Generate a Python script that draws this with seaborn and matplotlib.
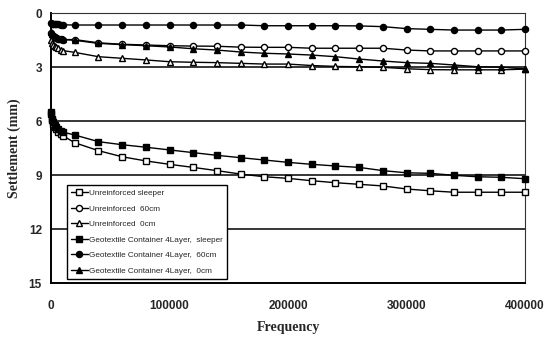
import matplotlib
matplotlib.use("Agg")
import matplotlib.pyplot as plt
import seaborn as sns
import pandas as pd

# Load cycles (x) - dense readings at the start, then every 20000
freq = [0, 1000, 2000, 3000, 4000, 6000, 8000, 10000,
        20000, 40000, 60000, 80000, 100000, 120000, 140000, 160000, 180000, 200000,
        220000, 240000, 260000, 280000, 300000, 320000, 340000, 360000, 380000, 400000]

# Settlement (mm)
unre_sleeper = [5.6, 5.95, 6.15, 6.3, 6.42, 6.58, 6.7, 6.8,
                7.19, 7.63, 7.97, 8.2, 8.39, 8.56, 8.74, 8.93, 9.08, 9.17,
                9.3, 9.41, 9.5, 9.59, 9.76, 9.86, 9.94, 9.94, 9.94, 9.94]
unre_60 = [1.1, 1.2, 1.27, 1.32, 1.36, 1.4, 1.44, 1.46,
           1.46, 1.64, 1.72, 1.76, 1.8, 1.82, 1.83, 1.88, 1.89, 1.89,
           1.94, 1.94, 1.94, 1.94, 2.04, 2.09, 2.09, 2.09, 2.09, 2.09]
unre_0 = [1.5, 1.65, 1.75, 1.82, 1.88, 1.95, 2.02, 2.07,
          2.17, 2.41, 2.5, 2.59, 2.69, 2.72, 2.74, 2.78, 2.82, 2.82,
          2.9, 2.95, 2.97, 3.0, 3.08, 3.13, 3.14, 3.14, 3.14, 3.1]
geo_sleeper = [5.5, 5.85, 6.05, 6.2, 6.3, 6.45, 6.55, 6.6,
               6.76, 7.13, 7.3, 7.44, 7.59, 7.74, 7.89, 8.02, 8.15, 8.28,
               8.39, 8.48, 8.56, 8.74, 8.86, 8.89, 9.0, 9.08, 9.11, 9.19]
geo_60 = [0.55, 0.58, 0.6, 0.6, 0.62, 0.62, 0.63, 0.64,
          0.65, 0.65, 0.65, 0.65, 0.65, 0.65, 0.65, 0.65, 0.69, 0.69,
          0.69, 0.69, 0.7, 0.74, 0.85, 0.89, 0.93, 0.93, 0.93, 0.89]
geo_0 = [1.05, 1.15, 1.22, 1.28, 1.32, 1.38, 1.42, 1.45,
         1.5, 1.67, 1.74, 1.8, 1.87, 1.97, 2.04, 2.15, 2.22, 2.26,
         2.32, 2.41, 2.54, 2.65, 2.74, 2.78, 2.87, 2.97, 2.99, 3.09]

labels = ["Unreinforced sleeper", "Unreinforced  60cm", "Unreinforced  0cm",
          "Geotextile Container 4Layer,  sleeper",
          "Geotextile Container 4Layer,  60cm",
          "Geotextile Container 4Layer,  0cm"]
series = [unre_sleeper, unre_60, unre_0, geo_sleeper, geo_60, geo_0]
markers = ["s", "o", "^", "s", "o", "^"]
faces = ["white", "white", "white", "black", "black", "black"]

frames = []
for name, vals in zip(labels, series):
    frames.append(pd.DataFrame({"Frequency": freq, "Settlement": vals, "Series": name}))
df = pd.concat(frames, ignore_index=True)

sns.set_style("white")
plt.rcParams["font.family"] = ["Liberation Sans", "DejaVu Sans"]

fig, ax = plt.subplots(figsize=(5.51, 3.37), dpi=100)
fig.subplots_adjust(left=0.0926, right=0.9528, top=0.9605, bottom=0.1593)

# horizontal grid lines
for yv in [3, 6, 9, 12]:
    ax.axhline(yv, color="black", lw=1.1, zorder=1)

for name, mk, fc in zip(labels, markers, faces):
    sub = df[df["Series"] == name]
    sns.lineplot(data=sub, x="Frequency", y="Settlement", ax=ax, label=name,
                 color="black", lw=1.0, marker=mk, markersize=4.4,
                 markerfacecolor=fc, markeredgecolor="black", markeredgewidth=1.0,
                 clip_on=False, zorder=3)

ax.set_xlim(0, 400000)
ax.set_ylim(15, 0)
ax.set_xticks([0, 100000, 200000, 300000, 400000])
ax.set_yticks([0, 3, 6, 9, 12, 15])
ax.tick_params(axis="x", direction="in", length=2.5, width=0.8, pad=12, labelsize=8.5)
ax.tick_params(axis="y", length=0, pad=6.5, labelsize=8.5)
for lab in ax.get_xticklabels() + ax.get_yticklabels():
    lab.set_fontweight("bold")

for side in ["left", "bottom"]:
    ax.spines[side].set_color("black")
    ax.spines[side].set_linewidth(1.4)
for side in ["top", "right"]:
    ax.spines[side].set_color("#333333")
    ax.spines[side].set_linewidth(0.8)
    ax.spines[side].set_linestyle((0, (2, 1)))

ax.set_xlabel("Frequency", family="Liberation Serif", fontweight="bold", fontsize=10)
ax.set_ylabel("Settlement (mm)", family="Liberation Serif", fontweight="bold", fontsize=10)
ax.xaxis.set_label_coords(0.5, -0.14)
ax.yaxis.set_label_coords(-0.063, 0.5)

leg = ax.legend(loc="lower left", bbox_to_anchor=(0.033, 0.015), borderaxespad=0,
                fontsize=5.9, frameon=True, fancybox=False, framealpha=1,
                edgecolor="black", handlelength=2.0, handletextpad=0.2,
                labelspacing=0.95, borderpad=0.55)
leg.get_frame().set_linewidth(1.0)
leg.set_zorder(5)

plt.savefig("out.png", dpi=100)
